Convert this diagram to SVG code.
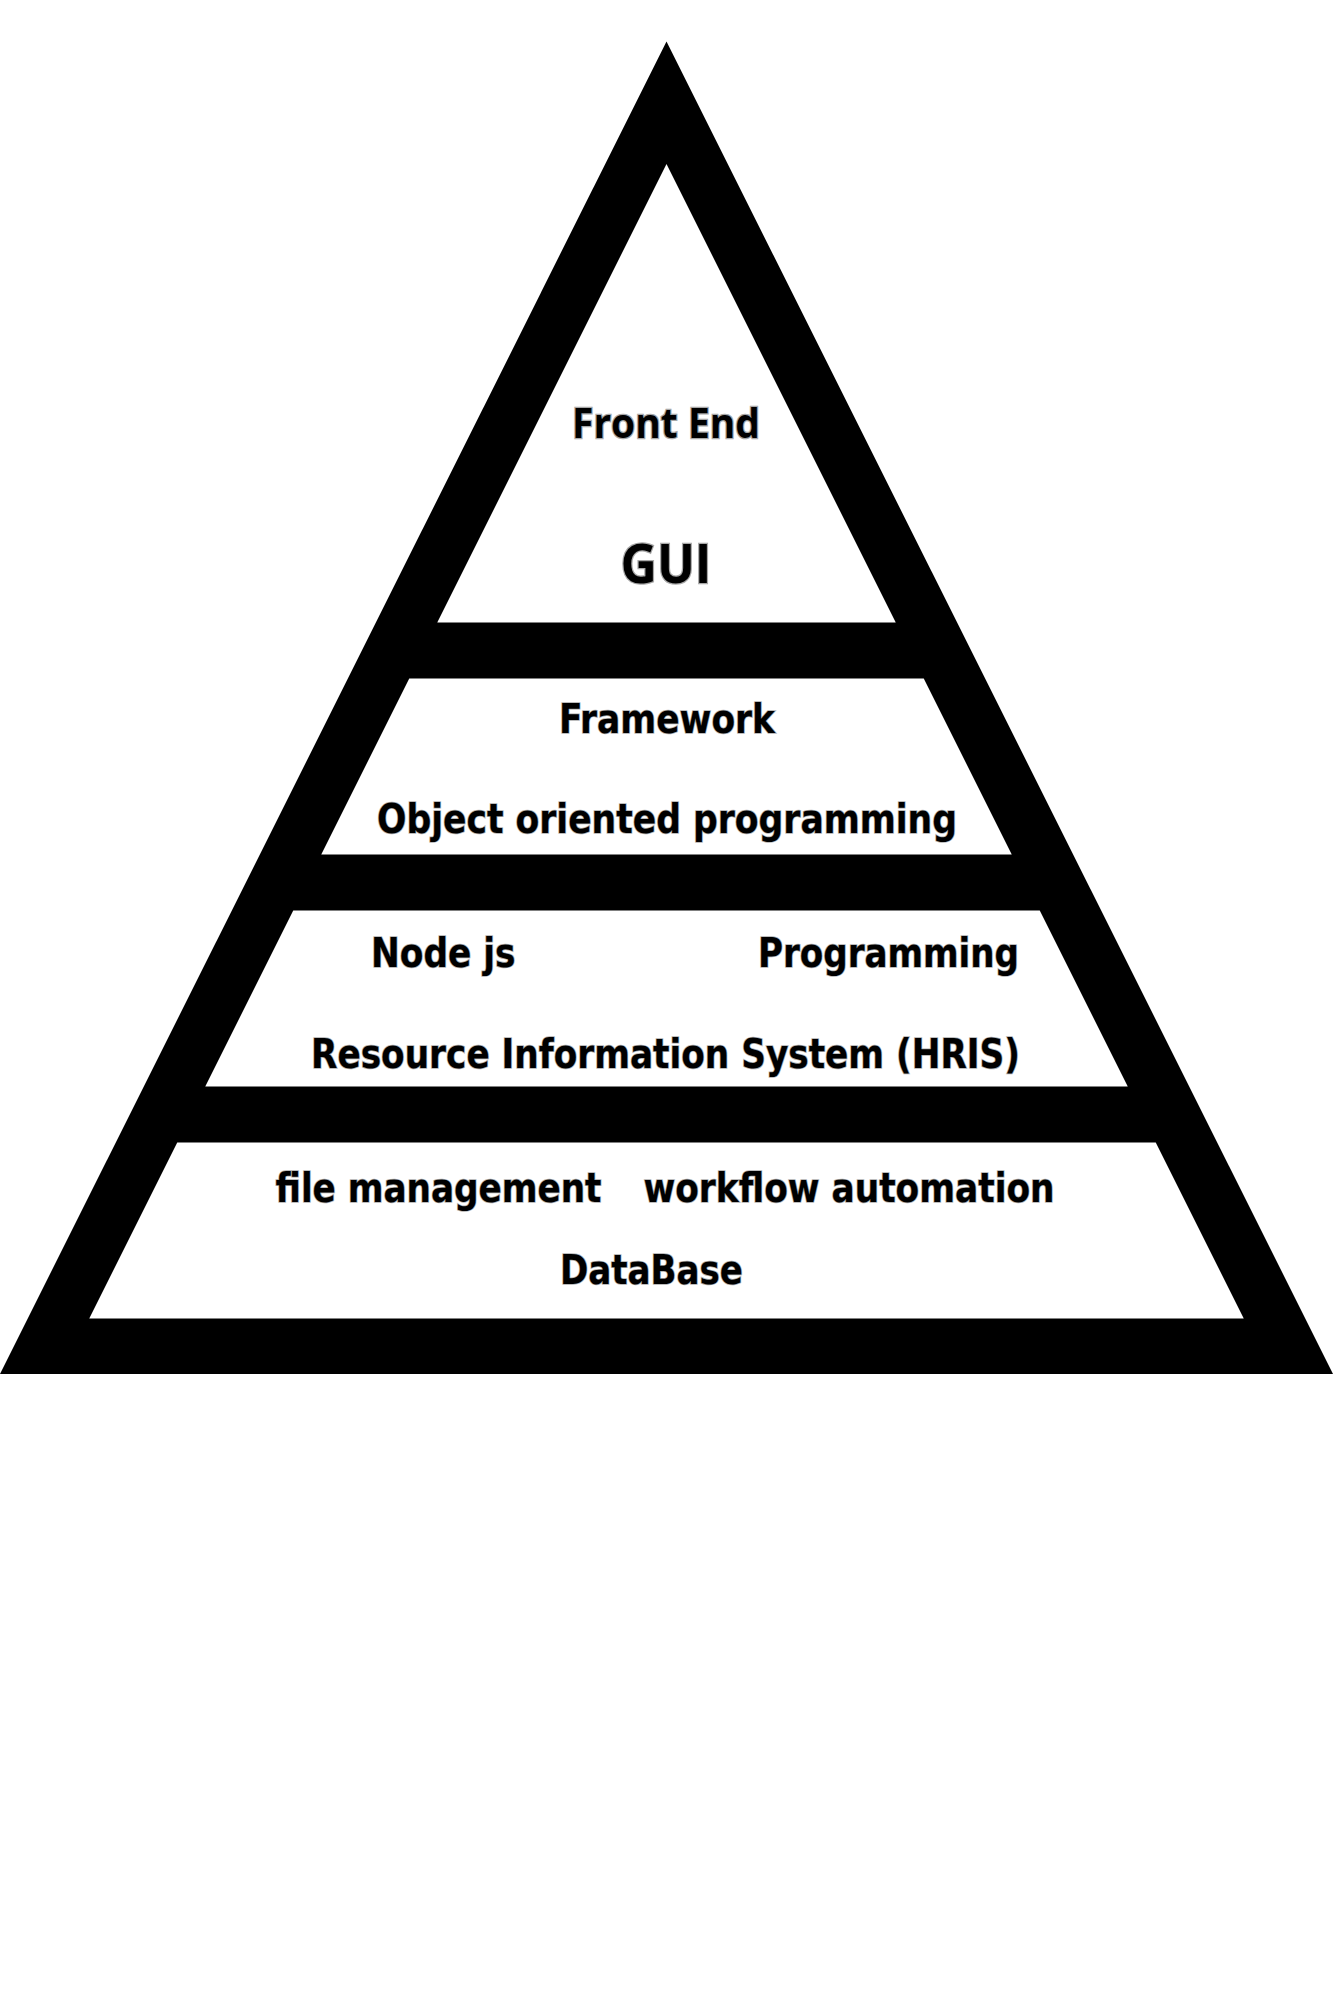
<svg xmlns="http://www.w3.org/2000/svg" width="1333" height="2000" viewBox="0 0 1333 2000">
<style>
.band{fill:#ffffff}
.t{font-family:"Liberation Sans Narrow","DejaVu Sans Condensed","Liberation Sans",sans-serif;font-stretch:condensed;font-weight:bold;font-size:40px;fill:#000;stroke:#b0b0b0;stroke-width:1.5px;paint-order:stroke}
.w{font-family:"Open Sans","Noto Sans","Liberation Sans",sans-serif;font-weight:bold;fill:#000;stroke:#a8a8a8;stroke-width:2.5px;paint-order:stroke}
</style>
<rect x="0" y="0" width="1333" height="2000" fill="#ffffff"/>
<g id="pyramid">
<polygon points="666.5,41.5 0,1374 1333,1374" fill="#000"/>
</g>
<g id="layer-frontend">
<polygon class="band" points="666.5,164 437.25,622.5 895.75,622.5"/>
<text class="w" x="572" y="437.5" font-size="41" textLength="188" lengthAdjust="spacingAndGlyphs">Front End</text>
<text class="w" x="620.5" y="582.5" font-size="53" textLength="91" lengthAdjust="spacingAndGlyphs">GUI</text>
</g>
<g id="layer-framework">
<polygon class="band" points="409.25,678.5 923.75,678.5 1011.75,854.5 321.25,854.5"/>
<text class="t" x="559" y="732.5" textLength="216" lengthAdjust="spacingAndGlyphs">Framework</text>
<text class="t" x="377" y="832.5" textLength="580" lengthAdjust="spacingAndGlyphs">Object oriented programming</text>
</g>
<g id="layer-programming">
<polygon class="band" points="293.25,910.5 1039.75,910.5 1127.75,1086.5 205.25,1086.5"/>
<text class="t" x="371" y="967.3" textLength="144.5" lengthAdjust="spacingAndGlyphs">Node js</text>
<text class="t" x="758" y="967.3" textLength="261" lengthAdjust="spacingAndGlyphs">Programming</text>
<text class="t" x="311" y="1068" textLength="709" lengthAdjust="spacingAndGlyphs">Resource Information System (HRIS)</text>
</g>
<g id="layer-database">
<polygon class="band" points="177.25,1142.5 1155.75,1142.5 1243.75,1318.5 89.25,1318.5"/>
<text class="t" x="275.5" y="1201.7" textLength="326" lengthAdjust="spacingAndGlyphs" stroke="none">file management</text>
<text class="t" x="643.5" y="1201.7" textLength="411" lengthAdjust="spacingAndGlyphs" stroke="none">workflow automation</text>
<text class="t" x="560" y="1284.3" textLength="183" lengthAdjust="spacingAndGlyphs">DataBase</text>
</g>
<g id="connectors"/>
</svg>
